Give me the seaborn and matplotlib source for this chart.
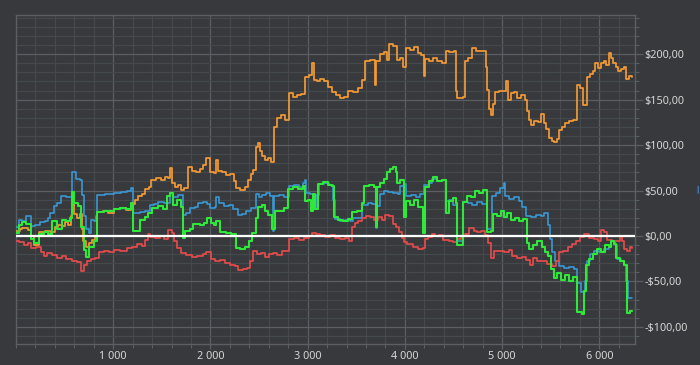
import numpy as np
import pandas as pd
import seaborn as sns
import matplotlib.pyplot as plt
from matplotlib.ticker import FuncFormatter, MultipleLocator, FixedLocator

# ------------------------------------------
# data
# ------------------------------------------
orange_x = [0, 41, 62, 123, 154, 185, 236, 298, 349, 401, 431, 473, 503, 534, 565, 575, 596, 627, 658, 678,
            688, 719, 750, 781, 812, 832, 894, 945, 1007, 1068, 1130, 1181, 1223, 1253, 1294, 1325, 1366, 1387,
            1438, 1490, 1531, 1562, 1582, 1603, 1634, 1664, 1695, 1726, 1767, 1808, 1849, 1890, 1921, 1952, 1993,
            2034, 2055, 2075, 2116, 2157, 2199, 2240, 2260, 2301, 2353, 2383, 2414, 2435, 2466, 2486, 2507, 2527,
            2558, 2589, 2620, 2651, 2681, 2722, 2764, 2805, 2846, 2887, 2928, 2969, 3010, 3041, 3062, 3092, 3123,
            3164, 3205, 3246, 3288, 3329, 3370, 3411, 3462, 3514, 3555, 3586, 3637, 3688, 3699, 3740, 3781, 3812,
            3832, 3873, 3914, 3945, 3976, 4007, 4048, 4089, 4130, 4161, 4192, 4212, 4253, 4294, 4335, 4377, 4418,
            4459, 4510, 4531, 4541, 4603, 4623, 4654, 4695, 4736, 4777, 4818, 4839, 4849, 4870, 4890, 4911, 4931,
            4973, 5014, 5045, 5065, 5096, 5127, 5158, 5199, 5240, 5260, 5281, 5301, 5332, 5373, 5404, 5435, 5455,
            5486, 5517, 5538, 5568, 5589, 5620, 5651, 5692, 5733, 5774, 5805, 5836, 5877, 5908, 5938, 5959, 5990,
            6020, 6051, 6072, 6103, 6123, 6144, 6175, 6195, 6226, 6257, 6277, 6308, 6339]
orange_y = [6, 8, 9, 7, 0, -10, 4, 6, 4, 10, 12, 11, 15, 12, 22, 35, 24, 20, 24, 8,
            -6, -12, -8, -4, -1, 26, 27, 25, 30, 31, 29, 35, 40, 44, 46, 52, 54, 62,
            64, 62, 65, 64, 75, 58, 54, 56, 51, 53, 76, 72, 70, 74, 78, 86, 70,
            69, 84, 72, 70, 67, 68, 60, 53, 51, 54, 62, 68, 73, 98, 102, 94, 88,
            84, 86, 81, 120, 130, 133, 128, 157, 153, 155, 156, 175, 177, 190, 172, 170, 173,
            171, 164, 158, 155, 152, 153, 160, 158, 163, 172, 192, 194, 166, 192, 200, 202, 194,
            211, 209, 194, 196, 186, 207, 205, 208, 201, 199, 176, 195, 192, 196, 193, 190, 203,
            202, 204, 160, 152, 153, 192, 196, 207, 204, 203, 204, 186, 161, 140, 133, 145, 158,
            160, 159, 170, 150, 157, 158, 152, 155, 150, 137, 128, 122, 127, 125, 134, 124, 118,
            108, 104, 103, 107, 117, 120, 124, 127, 128, 166, 163, 144, 175, 178, 182, 190, 185,
            190, 192, 188, 201, 196, 190, 186, 181, 184, 186, 173, 176, 175]

blue_x = [0, 31, 62, 103, 154, 195, 247, 298, 329, 349, 390, 421, 462, 514, 575, 616, 658, 678, 699, 719,
          750, 770, 801, 822, 832, 914, 1007, 1079, 1140, 1181, 1202, 1274, 1325, 1377, 1418, 1459, 1521, 1582,
          1613, 1664, 1716, 1747, 1788, 1839, 1869, 1921, 1962, 1993, 2045, 2055, 2086, 2137, 2188, 2229, 2281,
          2322, 2363, 2414, 2466, 2496, 2527, 2568, 2610, 2640, 2651, 2702, 2753, 2805, 2856, 2907, 2949, 2969,
          2979, 3021, 3062, 3082, 3113, 3164, 3215, 3257, 3277, 3329, 3380, 3432, 3462, 3514, 3555, 3616, 3658,
          3699, 3709, 3740, 3781, 3822, 3873, 3925, 3945, 3986, 4007, 4058, 4110, 4151, 4192, 4253, 4284, 4335,
          4377, 4418, 4459, 4500, 4541, 4603, 4654, 4695, 4746, 4798, 4849, 4900, 4942, 4983, 5024, 5034, 5075,
          5127, 5178, 5209, 5250, 5301, 5353, 5404, 5435, 5476, 5496, 5517, 5548, 5589, 5640, 5692, 5743, 5774,
          5815, 5856, 5877, 5908, 5949, 6000, 6051, 6103, 6123, 6164, 6185, 6226, 6257, 6277, 6298, 6339]
blue_y = [10, 18, 17, 22, 11, 12, 15, 16, 20, 25, 33, 36, 44, 43, 70, 63, 62, 45, 22, 8,
          3, 18, 16, 22, 45, 46, 47, 48, 49, 53, 25, 26, 27, 34, 35, 37, 36, 47,
          43, 45, 23, 25, 31, 32, 36, 37, 35, 31, 32, 43, 36, 33, 34, 30, 23,
          24, 28, 31, 46, 43, 45, 47, 44, 6, 44, 45, 43, 55, 56, 54, 58, 62,
          47, 46, 30, 45, 57, 58, 56, 40, 19, 17, 18, 16, 20, 20, 34, 36, 35,
          9, 33, 46, 50, 48, 47, 46, 55, 57, 44, 45, 43, 46, 56, 58, 63, 60,
          62, 38, 40, 34, -6, 37, 36, 34, 37, 35, 8, 44, 47, 53, 58, 44, 41,
          43, 38, 32, 22, 21, 23, 22, 25, 12, -3, -18, -28, -33, -35, -34, -36, -52,
          -62, -50, -28, -20, -17, -18, -14, -12, -5, -10, -25, -28, -32, -50, -68, -68]

green_x = [0, 31, 62, 103, 154, 185, 236, 288, 329, 370, 421, 473, 514, 555, 575, 596, 637, 668, 699, 719,
           750, 801, 832, 904, 1007, 1068, 1130, 1181, 1202, 1274, 1325, 1356, 1397, 1459, 1510, 1551, 1582, 1613,
           1654, 1695, 1716, 1736, 1788, 1818, 1890, 1931, 1962, 2004, 2034, 2055, 2096, 2157, 2209, 2260, 2301,
           2353, 2394, 2424, 2466, 2486, 2527, 2558, 2589, 2630, 2661, 2712, 2753, 2795, 2846, 2897, 2949, 2969,
           2999, 3031, 3051, 3072, 3102, 3154, 3205, 3246, 3267, 3308, 3359, 3411, 3452, 3503, 3555, 3575, 3627,
           3678, 3699, 3709, 3740, 3781, 3812, 3842, 3873, 3904, 3914, 3945, 3986, 4007, 4048, 4089, 4130, 4182,
           4212, 4253, 4294, 4335, 4377, 4418, 4449, 4490, 4521, 4541, 4603, 4644, 4685, 4726, 4767, 4808, 4849,
           4890, 4911, 4952, 4993, 5024, 5055, 5096, 5137, 5178, 5219, 5260, 5281, 5322, 5363, 5414, 5445, 5476,
           5507, 5538, 5568, 5610, 5651, 5692, 5733, 5774, 5826, 5846, 5867, 5897, 5938, 5979, 6020, 6062, 6103,
           6123, 6154, 6175, 6216, 6257, 6288, 6319, 6339]
green_y = [3, 12, 15, 13, -3, -8, 2, 4, 2, 16, 8, 18, 16, 20, 48, 36, 33, 10, -15, -23,
           -12, -6, 26, 27, 30, 31, 30, 36, 6, 18, 21, 25, 31, 33, 30, 44, 47, 34,
           40, 32, -2, 6, 8, 13, 12, 14, 20, 14, 12, 16, 4, 3, 2, -13, -14,
           -12, -5, 3, 20, 32, 34, 28, 23, 8, 28, 27, 31, 52, 54, 52, 55, 38,
           40, 28, 46, 30, 57, 59, 56, 55, 21, 18, 16, 19, 26, 28, 36, 55, 56,
           54, 10, 54, 58, 63, 70, 74, 76, 70, 58, 62, 21, 38, 34, 40, 32, 3,
           54, 60, 65, 60, 62, 25, 38, 42, 36, -10, 37, 44, 43, 50, 47, 51, 4,
           6, 24, 22, 27, 21, 25, 18, 20, 16, 19, -8, -14, -10, -6, -12, -18, -22,
           -36, -46, -41, -48, -43, -50, -45, -84, -86, -60, -32, -25, -20, -14, -18, -10, -12,
           -6, -9, -24, -28, -32, -85, -83, -83]

red_x = [0, 31, 82, 123, 154, 205, 257, 288, 319, 370, 421, 473, 514, 575, 627, 668, 699, 729, 770, 812,
         853, 904, 955, 1007, 1068, 1140, 1192, 1243, 1294, 1325, 1356, 1377, 1428, 1479, 1521, 1562, 1603, 1623,
         1654, 1695, 1747, 1808, 1859, 1921, 1952, 2004, 2045, 2096, 2147, 2199, 2250, 2281, 2332, 2373, 2404,
         2435, 2476, 2517, 2558, 2599, 2640, 2681, 2733, 2784, 2805, 2856, 2907, 2959, 3010, 3041, 3082, 3123,
         3175, 3226, 3277, 3329, 3380, 3421, 3452, 3483, 3514, 3555, 3596, 3637, 3678, 3719, 3760, 3791, 3832,
         3873, 3904, 3935, 3966, 3986, 4027, 4079, 4130, 4182, 4202, 4233, 4274, 4315, 4356, 4397, 4449, 4500,
         4541, 4582, 4623, 4664, 4706, 4746, 4788, 4829, 4860, 4890, 4921, 4973, 5024, 5075, 5106, 5158, 5209,
         5250, 5291, 5322, 5363, 5414, 5466, 5517, 5558, 5589, 5630, 5682, 5723, 5764, 5805, 5846, 5897, 5949,
         5990, 6020, 6051, 6082, 6134, 6175, 6216, 6236, 6257, 6288, 6319, 6339]
red_y = [-5, -7, -10, -8, -13, -12, -18, -22, -19, -21, -24, -22, -25, -27, -29, -38, -32, -27, -25, -24,
         -18, -17, -18, -15, -16, -13, -12, -9, -11, -4, 2, -1, -2, 0, -3, 7, 3, -6,
         -13, -19, -21, -23, -22, -20, -18, -25, -27, -26, -30, -32, -33, -37, -36, -35, -27,
         -16, -20, -19, -23, -20, -19, -21, -17, -16, -3, -2, -4, -2, 0, 3, 2, 1,
         -1, 1, -2, -3, -2, -5, 10, 14, 16, 20, 22, 21, 18, 21, 18, 23, 22,
         13, 10, 4, -2, -7, -9, -12, -14, -13, -3, -1, 2, 0, 1, -4, -6, -7,
         -3, 0, 2, 9, 6, 4, 5, 1, -8, -24, -17, -16, -18, -15, -22, -24, -23,
         -26, -32, -24, -27, -28, -31, -33, -27, -18, -16, -12, -9, -5, -1, 2, -2, -3,
         -5, 7, 4, -4, -6, -5, 0, -6, -14, -17, -12, -13]

x_ticks = [1000, 2000, 3000, 4000, 5000, 6000]
y_ticks = [-100, -50, 0, 50, 100, 150, 200]

# ------------------------------------------
# style
# ------------------------------------------
BG = "#37393c"
GRID_MAJOR = "#5b5e62"
GRID_MINOR = "#46494c"
TEXT = "#d6d6d6"

sns.set_theme(style="dark", rc={
    "figure.facecolor": BG,
    "axes.facecolor": BG,
    "axes.edgecolor": GRID_MAJOR,
    "xtick.color": GRID_MAJOR,
    "ytick.color": GRID_MAJOR,
    "xtick.labelcolor": TEXT,
    "ytick.labelcolor": TEXT,
})
plt.rcParams["font.family"] = ["Noto Sans", "DejaVu Sans"]

fig = plt.figure(figsize=(7.0, 3.65), dpi=100)
ax = fig.add_axes([0.0229, 0.0575, 0.8842, 0.9014])

series = [
    (blue_x, blue_y, "#3a9ad9", 1.15),
    (orange_x, orange_y, "#f39a33", 1.25),
    (red_x, red_y, "#e54b4b", 1.25),
    (green_x, green_y, "#2ee83a", 1.5),
]
for xs, ys, col, lw in series:
    sns.lineplot(x=xs, y=ys, ax=ax, color=col, lw=lw, drawstyle="steps-post",
                 sort=False, estimator=None, zorder=3)

ax.axhline(0, color="white", lw=1.6, zorder=4)

ax.set_xlim(0, 6367)
ax.set_ylim(-118.8, 243.1)

ax.xaxis.set_major_locator(FixedLocator(x_ticks))
ax.xaxis.set_minor_locator(MultipleLocator(200))
ax.yaxis.set_major_locator(FixedLocator(y_ticks))
ax.yaxis.set_minor_locator(MultipleLocator(10))

ax.xaxis.set_major_formatter(FuncFormatter(lambda v, p: f"{int(v):,}".replace(",", " ")))


def money(v, p):
    s = f"${abs(v):.2f}".replace(".", ",")
    return "-" + s if v < 0 else s


ax.yaxis.set_major_formatter(FuncFormatter(money))
ax.yaxis.tick_right()

ax.grid(which="major", color=GRID_MAJOR, lw=0.9, zorder=1)
ax.grid(which="minor", color=GRID_MINOR, lw=0.9, zorder=0)
ax.set_axisbelow(True)

ax.tick_params(axis="y", which="major", length=6, width=0.9, pad=1, labelsize=7.8, right=True, left=False)
ax.tick_params(axis="y", which="minor", length=3, width=0.8, right=True, left=False)
ax.tick_params(axis="x", which="major", length=3.5, width=0.9, pad=1.5, labelsize=7.8, bottom=True)
ax.tick_params(axis="x", which="minor", length=3, width=0.8, bottom=True)

for sp in ax.spines.values():
    sp.set_color(GRID_MAJOR)
    sp.set_linewidth(1.0)

ax.set_xlabel("")
ax.set_ylabel("")

# clipped axis caption at the right edge
fig.text(0.993, 0.485, "≡", rotation=90, color="#3f8fdc", fontsize=9, ha="left", va="center")

fig.savefig("out.png", dpi=100, facecolor=BG)
